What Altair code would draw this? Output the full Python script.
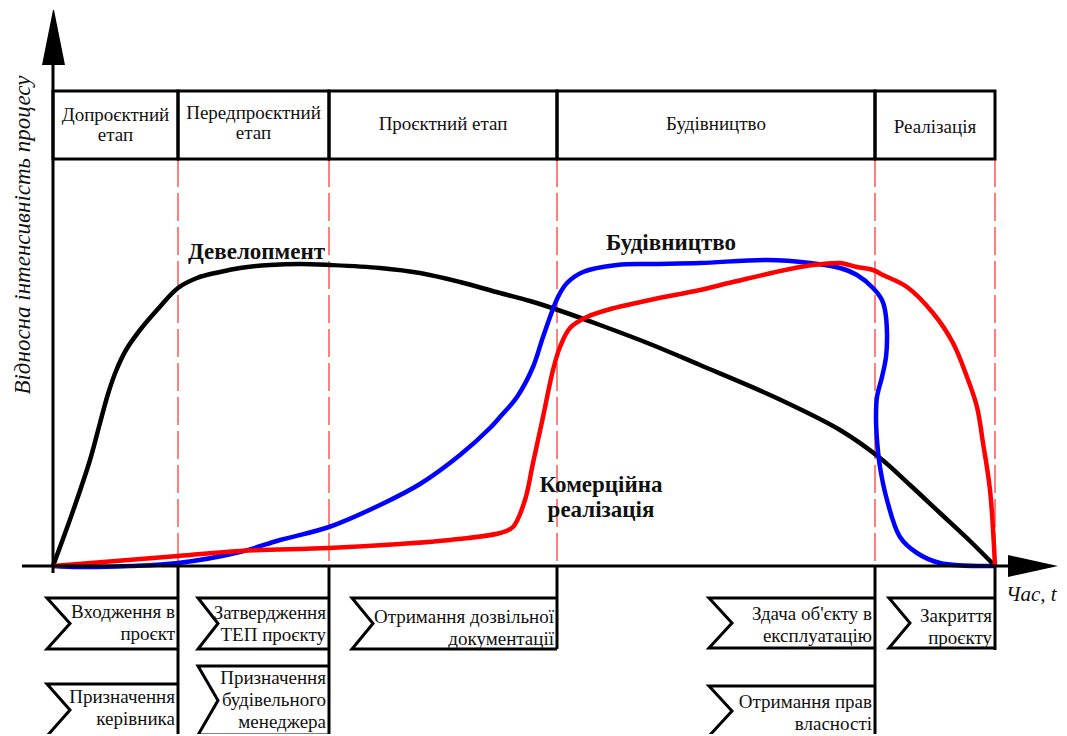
import altair as alt
import pandas as pd

# ---------------- data (time t, relative intensity v) ----------------
phase_names = ["Допроєктний\nетап", "Передпроєктний\nетап", "Проєктний етап", "Будівництво", "Реалізація"]
phase_start = [0, 125, 276, 504, 822]
phase_end = [125, 276, 504, 822, 942]

dev_t = [0, 20, 37, 47, 55, 63, 73, 87, 104, 125, 144, 167, 187, 217, 247, 277, 327, 367, 407,
         447, 477, 505, 547, 597, 647, 717, 787, 827, 857, 887, 917, 942]
dev_v = [0, 55, 106, 143, 172, 195, 216, 236, 256, 278, 288, 294, 298, 301, 302, 301, 298, 293, 284,
         273, 265, 256, 241, 222, 201, 171, 136, 108, 81, 53, 25, 0]

bud_t = [0, 27, 77, 125, 187, 227, 276, 327, 367, 407, 437, 447, 464, 480, 490, 505, 514, 530, 564,
         597, 647, 714, 757, 787, 804, 820, 829, 832, 834, 833, 829, 824, 823, 824, 827, 834, 847,
         864, 887, 942]
bud_v = [0, -1, 0, 3, 14, 26, 39, 61, 82, 111, 138, 149, 169, 199, 229, 269, 283, 294, 301,
         302, 303, 306, 303, 298, 291, 278, 266, 256, 233, 209, 189, 169, 149, 126, 99, 66, 29,
         13, 3, 0]

kom_t = [0, 125, 187, 276, 347, 397, 447, 460, 472, 480, 490, 500, 507, 517, 534, 554, 597, 647,
         680, 747, 770, 787, 804, 820, 830, 854, 880, 900, 914, 924, 930, 937, 942]
kom_v = [0, 10, 15, 18, 22, 26, 33, 39, 66, 103, 149, 196, 219, 238, 249, 256, 266, 276,
         284, 299, 302, 303, 299, 296, 291, 279, 253, 223, 189, 159, 123, 76, 0]

milestone_labels = ["Входження в\nпроєкт", "Призначення\nкерівника", "Затвердження\nТЕП проєкту",
                    "Призначення\nбудівельного\nменеджера", "Отримання дозвільної\nдокументації",
                    "Здача об'єкту в\nексплуатацію", "Отримання прав\nвласності", "Закриття\nпроєкту"]

# ---------------- layout ----------------
phase_text_v = [451, 453, 442, 442, 439]
flag_left = [-6, -6, 145, 145, 299, 656, 656, 836]
flag_notch = [17, 17, 165, 165, 320, 679, 679, 857]
flag_right = [125, 125, 276, 276, 504, 822, 822, 942]
flag_top = [-32, -118, -32, -100, -32, -32, -120, -32]
flag_bottom = [-83, -170, -83, -169, -83, -82, -170, -82]
flag_text_v = [-46, -131, -47, -112, -51, -48, -136, -50]

FONT = "Liberation Serif, Times New Roman, serif"
xs = alt.Scale(domain=[-45, 1006], nice=False, zero=False)
ys = alt.Scale(domain=[-168, 558], nice=False, zero=False)

def X(f):
    return alt.X(f, type="quantitative", scale=xs, axis=None)

def Y(f):
    return alt.Y(f, type="quantitative", scale=ys, axis=None)

# curves
rows = []
for name, tt, vv in [("dev", dev_t, dev_v), ("bud", bud_t, bud_v), ("kom", kom_t, kom_v)]:
    for i, (a, b) in enumerate(zip(tt, vv)):
        rows.append({"s": name, "t": a, "v": b, "o": i})
curves_df = pd.DataFrame(rows)
curves = alt.Chart(curves_df).mark_line(strokeWidth=4.5, interpolate="catmull-rom").encode(
    x=X("t"), y=Y("v"), order="o:Q", detail="s:N",
    color=alt.Color("s:N", scale=alt.Scale(domain=["dev", "bud", "kom"],
                                           range=["#000000", "#0000ff", "#ff0000"]), legend=None),
)

# header boxes
ph_df = pd.DataFrame({"name": phase_names, "a": phase_start, "b": phase_end, "mid": phase_text_v})
ph_df["c"] = (ph_df["a"] + ph_df["b"]) / 2
ph_df["top"] = 475
ph_df["bot"] = 407
boxes = alt.Chart(ph_df).mark_rect(filled=False, stroke="black", strokeWidth=3).encode(
    x=X("a"), x2="b", y=Y("bot"), y2="top")
box_text = alt.Chart(ph_df).mark_text(font=FONT, fontSize=19, lineBreak="\n", lineHeight=20,
                                      baseline="middle", align="center", color="#111").encode(
    x=X("c"), y=Y("mid"), text="name:N")

# red dashed phase boundaries
bnd_df = pd.DataFrame({"t": phase_end, "y1": 407, "y2": 0})
dashes = alt.Chart(bnd_df).mark_rule(color="#ff0000", strokeWidth=1, strokeDash=[28, 6]).encode(
    x=X("t"), y=Y("y1"), y2="y2")

# black verticals below axis
vb_df = pd.DataFrame({"t": [125, 276, 504, 822, 942], "y1": [0, 0, 0, 0, 0],
                      "y2": [-172, -172, -83, -172, -84]})
vblack = alt.Chart(vb_df).mark_rule(color="black", strokeWidth=3).encode(
    x=X("t"), y=Y("y1"), y2="y2")

# axes
yaxis = alt.Chart(pd.DataFrame({"t": [0], "y1": [-7], "y2": [502]})).mark_rule(
    color="black", strokeWidth=3).encode(x=X("t"), y=Y("y1"), y2="y2")
xaxis = alt.Chart(pd.DataFrame({"t1": [-31], "t2": [956], "v": [0]})).mark_rule(
    color="black", strokeWidth=3).encode(x=X("t1"), x2="t2", y=Y("v"))
up_arrow = alt.Chart(pd.DataFrame({"v": [501, 556], "xl": [-11, 0], "xr": [12, 1]})).mark_area(
    orient="horizontal", color="black").encode(y=Y("v"), x=X("xl"), x2="xr")
right_arrow = alt.Chart(pd.DataFrame({"t": [955, 1005], "yl": [-11, 0], "yh": [11, 0]})).mark_area(
    orient="vertical", color="black").encode(x=X("t"), y=Y("yl"), y2="yh")

# milestone flags
frows = []
for i in range(len(milestone_labels)):
    mid = (flag_top[i] + flag_bottom[i]) / 2
    pts = [(flag_right[i], flag_top[i]), (flag_left[i], flag_top[i]), (flag_notch[i], mid),
           (flag_left[i], flag_bottom[i]), (flag_right[i], flag_bottom[i])]
    for k, (a, b) in enumerate(pts):
        frows.append({"f": i, "o": k, "t": a, "v": b})
flags = alt.Chart(pd.DataFrame(frows)).mark_line(color="black", strokeWidth=3,
                                                 strokeJoin="miter").encode(
    x=X("t"), y=Y("v"), order="o:Q", detail="f:N")
ft_df = pd.DataFrame({"label": milestone_labels, "t": [r - 3 for r in flag_right], "v": flag_text_v})
flag_text = alt.Chart(ft_df).mark_text(font=FONT, fontSize=19, lineBreak="\n", lineHeight=22,
                                       align="right", baseline="middle", color="#111").encode(
    x=X("t"), y=Y("v"), text="label:N")

# curve labels
cl_df = pd.DataFrame({"label": ["Девелопмент", "Будівництво"], "t": [135, 553], "v": [314, 323]})
curve_labels = alt.Chart(cl_df).mark_text(font=FONT, fontSize=23, fontWeight="bold", align="left",
                                          baseline="middle", color="#111").encode(
    x=X("t"), y=Y("v"), text="label:N")
kom_label = alt.Chart(pd.DataFrame({"label": ["Комерційна\nреалізація"], "t": [548], "v": [81]})).mark_text(
    font=FONT, fontSize=23, fontWeight="bold", align="center", baseline="middle", lineBreak="\n",
    lineHeight=25, color="#111").encode(x=X("t"), y=Y("v"), text="label:N")

# axis titles
ytitle = alt.Chart(pd.DataFrame({"label": ["Відносна інтенсивність процесу"], "t": [-30], "v": [331]})).mark_text(
    font=FONT, fontSize=23, fontStyle="italic", angle=270, align="center", baseline="middle",
    color="#111").encode(x=X("t"), y=Y("v"), text="label:N")
xtitle = alt.Chart(pd.DataFrame({"label": ["Час, t"], "t": [953], "v": [-29]})).mark_text(
    font=FONT, fontSize=21, fontStyle="italic", align="left", baseline="middle",
    color="#111").encode(x=X("t"), y=Y("v"), text="label:N")

chart = alt.layer(
    dashes, vblack, boxes, box_text, flags, flag_text, curves, yaxis, xaxis, up_arrow, right_arrow,
    curve_labels, kom_label, ytitle, xtitle,
).properties(width=1051, height=726, padding=0, autosize="none", background="white"
).configure_view(stroke=None)

chart.save("out.html", embed_options={"renderer": "svg", "actions": False})
